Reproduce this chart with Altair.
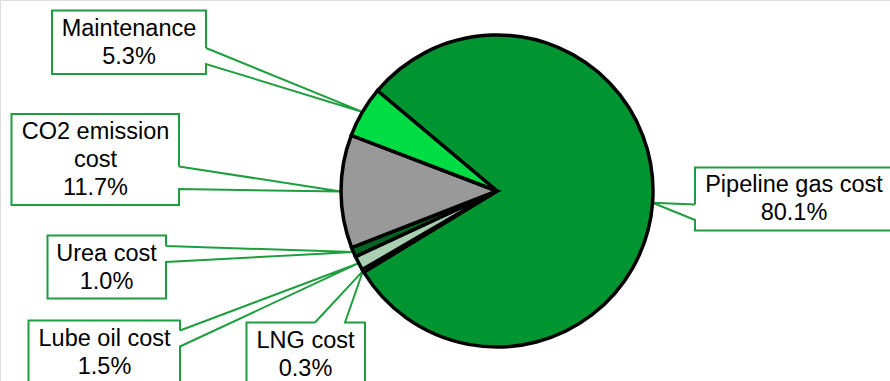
import math
import altair as alt
import pandas as pd

# ---- data ----
categories = ["Pipeline gas cost", "LNG cost", "Lube oil cost", "Urea cost",
              "CO2 emission cost", "Maintenance"]
shares = [80.1, 0.3, 1.5, 1.0, 11.7, 5.3]
label_names = ["Pipeline gas cost", "LNG cost", "Lube oil cost", "Urea cost",
               "CO2 emission\ncost", "Maintenance"]
colors = ["#009530", "#0d2b14", "#a9cfb2", "#006424", "#999999", "#00dd44"]

# ---- layout ----
W, H = 890, 381
CX, CY, R = 497, 191, 156
START_DEG = 310.0
BOX_COLOR = "#1f9e3f"
LINE_H = 28
# box: x0, y0, x1, y1, side of wedge, gap start, gap end, text center x, text center y
boxes = {
    "Pipeline gas cost": (695, 167.5, 900, 230.5, "left", 204.5, 220, 794, 199),
    "LNG cost": (246.5, 322.5, 365, 400, "top", 315, 345, 305.5, 355),
    "Lube oil cost": (28.5, 320.5, 180, 400, "right", 330.5, 346.5, 104.5, 352.5),
    "Urea cost": (47.5, 235.5, 166, 298.5, "right", 246, 262, 106.5, 268),
    "CO2 emission cost": (11.5, 114, 179, 205, "right", 166.5, 189, 95.5, 160),
    "Maintenance": (52, 10.5, 206, 74, "right", 48, 64, 129, 43),
}

total = sum(shares)
pie_df = pd.DataFrame({"cat": categories, "share": shares, "idx": list(range(len(shares)))})

# callout polygons (tips at mid-angle of each slice on the pie edge)
rows = []
text_rows = []
cum = 0.0
for c, v, name in zip(categories, shares, label_names):
    mid = math.radians(START_DEG + (cum + v / 2) / total * 360.0)
    cum += v
    tx, ty = CX + R * math.sin(mid), CY - R * math.cos(mid)
    x0, y0, x1, y1, side, g0, g1, lx, ly = boxes[c]
    if side == "right":
        pts = [(x1, g0), (x1, y0), (x0, y0), (x0, y1), (x1, y1), (x1, g1), (tx, ty), (x1, g0)]
    elif side == "left":
        pts = [(x0, g0), (x0, y0), (x1, y0), (x1, y1), (x0, y1), (x0, g1), (tx, ty), (x0, g0)]
    else:  # top
        pts = [(g0, y0), (x0, y0), (x0, y1), (x1, y1), (x1, y0), (g1, y0), (tx, ty), (g0, y0)]
    for i, (px, py) in enumerate(pts):
        rows.append({"cat": c, "o": i, "px": px, "py": py})
    txt = f"{name}\n{v:.1f}%"
    n = txt.count("\n") + 1
    text_rows.append({"cat": c, "txt": txt, "px": lx, "py": ly - (n - 1) * LINE_H / 2})

line_df = pd.DataFrame(rows)
text_df = pd.DataFrame(text_rows)

xs = alt.Scale(domain=[0, W], range=[0, W], nice=False, zero=False)
ys = alt.Scale(domain=[0, H], range=[0, H], nice=False, zero=False)

callouts = alt.Chart(line_df).mark_line(color=BOX_COLOR, strokeWidth=2, strokeJoin="miter").encode(
    x=alt.X("px:Q", scale=xs, axis=None),
    y=alt.Y("py:Q", scale=ys, axis=None),
    detail="cat:N",
    order="o:Q",
)

start = math.radians(START_DEG)
pie = alt.Chart(pie_df).mark_arc(radius=R, stroke="black", strokeWidth=3.5).encode(
    theta=alt.Theta("share:Q", stack=True, scale=alt.Scale(range=[start, start + 2 * math.pi])),
    color=alt.Color("cat:N", scale=alt.Scale(domain=categories, range=colors), legend=None),
    order=alt.Order("idx:Q"),
    x=alt.value(CX),
    y=alt.value(CY),
)

labels = alt.Chart(text_df).mark_text(
    font="Liberation Sans", fontSize=23.5, color="black", lineBreak="\n",
    lineHeight=LINE_H, align="center", baseline="middle",
).encode(
    x=alt.X("px:Q", scale=xs, axis=None),
    y=alt.Y("py:Q", scale=ys, axis=None),
    text="txt:N",
)

chart = alt.layer(callouts, pie, labels).properties(
    width=W, height=H, autosize="none", padding=0
).configure_view(stroke=None).configure(background="white")

chart.save("out.html", embed_options={"renderer": "svg", "actions": False})
